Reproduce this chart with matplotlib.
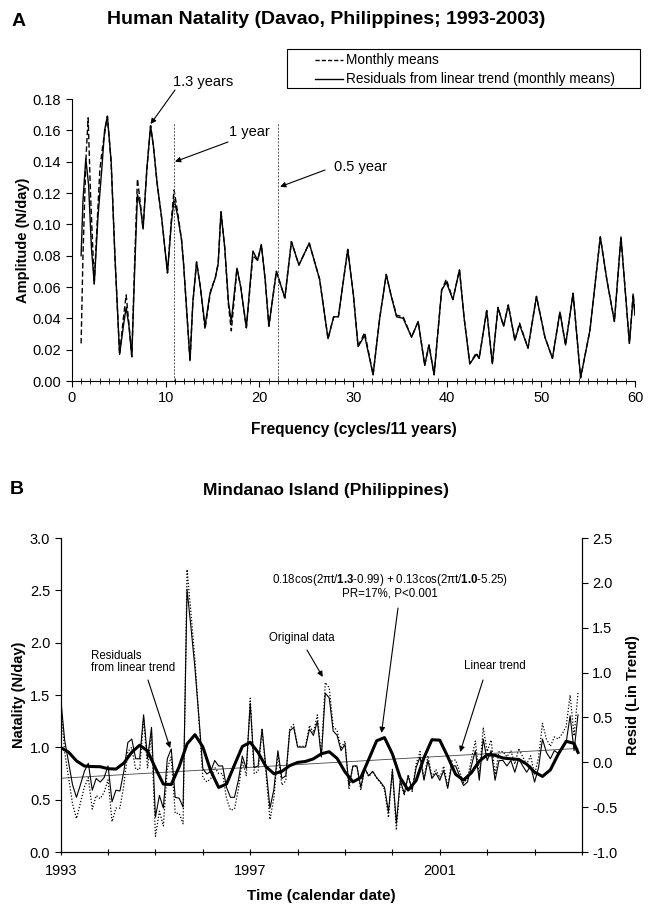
import matplotlib
matplotlib.use('Agg')
import matplotlib.pyplot as plt
from matplotlib.lines import Line2D
from matplotlib.patches import Rectangle
from matplotlib.ticker import MultipleLocator, FixedLocator, FormatStrFormatter

plt.rcParams['font.family'] = ['Liberation Sans', 'DejaVu Sans']
plt.rcParams['mathtext.fontset'] = 'custom'
plt.rcParams['mathtext.rm'] = 'Liberation Sans'
plt.rcParams['mathtext.bf'] = 'Liberation Sans:bold'

# === PAINEL A: espectro (frequência em ciclos/11 anos) ===
freq_res = [1.0, 1.2, 1.5, 1.8, 2.1, 2.4, 2.8, 3.2, 3.5, 3.8, 4.2, 4.6, 5.1, 5.5, 5.8, 6.1, 6.4,
            6.7, 7.0, 7.3, 7.6, 8.0, 8.4, 8.7, 9.1, 9.6, 10.2, 10.6, 10.9, 11.3, 11.7, 11.9,
            12.3, 12.6, 12.9, 13.3, 13.7, 14.2, 14.7, 15.3, 15.6, 15.9, 16.3, 16.7, 17.0,
            17.6, 18.0, 18.6, 19.3, 19.8, 20.2, 20.6, 21.0, 21.8, 22.7, 23.4, 24.2, 25.3,
            26.4, 27.3, 27.9, 28.4, 29.4, 30.0, 30.5, 31.2, 32.1, 32.8, 33.5, 34.0, 34.6,
            35.3, 36.2, 36.9, 37.6, 38.05, 38.6, 39.4, 39.9, 40.6, 41.3, 41.8, 42.4, 43.1,
            43.4, 44.2, 44.8, 45.4, 46.0, 46.5, 47.2, 47.7, 48.6, 49.5, 50.4, 51.2, 52.0,
            52.6, 53.4, 54.2, 55.2, 56.3, 57.0, 57.8, 58.5, 59.4, 59.8, 60.0]
amp_res = [0.080, 0.115, 0.142, 0.125, 0.085, 0.062, 0.105, 0.135, 0.160, 0.169, 0.140, 0.080,
           0.017, 0.035, 0.047, 0.035, 0.0155, 0.070, 0.119, 0.112, 0.097, 0.135, 0.163, 0.150,
           0.126, 0.103, 0.069, 0.100, 0.116, 0.105, 0.090, 0.076, 0.040, 0.013, 0.050, 0.076,
           0.060, 0.035, 0.055, 0.066, 0.075, 0.108, 0.085, 0.050, 0.038, 0.072, 0.060, 0.034,
           0.083, 0.077, 0.087, 0.065, 0.035, 0.070, 0.053, 0.089, 0.074, 0.088, 0.065, 0.027,
           0.041, 0.041, 0.084, 0.055, 0.022, 0.029, 0.004, 0.040, 0.068, 0.055, 0.041, 0.040,
           0.028, 0.038, 0.010, 0.023, 0.004, 0.058, 0.063, 0.052, 0.071, 0.040, 0.011, 0.017,
           0.0145, 0.045, 0.011, 0.047, 0.035, 0.0485, 0.026, 0.036, 0.021, 0.054, 0.028,
           0.0145, 0.044, 0.023, 0.056, 0.002, 0.0325, 0.092, 0.0645, 0.038, 0.092, 0.024,
           0.054, 0.042]

freq_mm = [1.0, 1.2, 1.5, 1.75, 2.0, 2.4, 2.7, 3.0, 3.3, 3.8, 4.2, 4.6, 5.1, 5.5, 5.8, 6.1, 6.4,
           6.7, 7.0, 7.3, 7.6, 8.0, 8.4, 8.7, 9.1, 9.6, 10.2, 10.6, 10.9, 11.3, 11.7, 11.9,
           12.3, 12.6, 12.9, 13.3, 13.7, 14.2, 14.8, 15.3, 15.6, 15.9, 16.3, 16.7, 17.0,
           17.6, 18.0, 18.6, 19.3, 19.8, 20.2, 20.6, 21.0, 21.8, 22.7, 23.4, 24.2, 25.3,
           26.4, 27.3, 27.9, 28.4, 29.4, 30.0, 30.5, 31.2, 32.1, 32.8, 33.5, 34.0, 34.6,
           35.3, 36.2, 36.9, 37.6, 38.05, 38.6, 39.4, 39.9, 40.6, 41.3, 41.8, 42.4, 43.1,
           43.4, 44.2, 44.8, 45.4, 46.0, 46.5, 47.2, 47.7, 48.6, 49.5, 50.4, 51.2, 52.0,
           52.6, 53.4, 54.2, 55.2, 56.3, 57.0, 57.8, 58.5, 59.4, 59.8, 60.0]
amp_mm = [0.024, 0.080, 0.140, 0.168, 0.120, 0.062, 0.100, 0.135, 0.150, 0.169, 0.140, 0.080,
          0.017, 0.040, 0.055, 0.036, 0.0155, 0.075, 0.129, 0.114, 0.097, 0.135, 0.163, 0.150,
          0.126, 0.103, 0.069, 0.102, 0.122, 0.107, 0.090, 0.076, 0.040, 0.013, 0.050, 0.076,
          0.060, 0.033, 0.058, 0.066, 0.075, 0.108, 0.085, 0.048, 0.032, 0.072, 0.060, 0.034,
          0.080, 0.077, 0.087, 0.065, 0.035, 0.070, 0.053, 0.089, 0.074, 0.088, 0.065, 0.027,
          0.041, 0.041, 0.084, 0.055, 0.022, 0.031, 0.004, 0.040, 0.068, 0.055, 0.042, 0.041,
          0.028, 0.038, 0.010, 0.023, 0.004, 0.058, 0.065, 0.052, 0.071, 0.040, 0.011, 0.018,
          0.0145, 0.045, 0.011, 0.047, 0.035, 0.0485, 0.026, 0.037, 0.021, 0.054, 0.028,
          0.0145, 0.044, 0.023, 0.056, 0.002, 0.0325, 0.092, 0.0645, 0.038, 0.092, 0.024,
          0.056, 0.042]

period_freqs = [10.9, 22.0]    # 1 ano e 0.5 ano
period_top = 0.165

# === PAINEL B: série mensal 1993-2003 ===
resid = [0.72, 0.25, 0.00, -0.25, -0.39, -0.25, -0.10, -0.01, -0.31, -0.18, -0.22, -0.17,
         -0.04, -0.44, -0.31, -0.32, -0.10, 0.22, 0.26, 0.04, 0.04, 0.53, 0.04, 0.39,
         -0.61, -0.37, -0.51, 0.04, 0.15, -0.39, -0.40, -0.50, 1.93, 1.50, 1.05, 0.50,
         -0.07, -0.13, -0.10, 0.02, -0.04, -0.04, -0.28, -0.39, -0.39, -0.20, 0.07, -0.07,
         0.66, -0.06, -0.04, 0.37, -0.07, -0.51, -0.30, 0.13, -0.18, -0.15, 0.35, 0.39,
         0.17, 0.17, 0.17, 0.37, 0.30, 0.46, 0.06, 0.77, 0.72, 0.35, 0.30, 0.13,
         0.20, -0.26, -0.04, -0.04, -0.28, -0.07, -0.15, -0.10, -0.17, -0.22, -0.28, -0.55,
         -0.09, -0.68, -0.20, -0.35, -0.15, -0.31, -0.06, 0.06, -0.20, 0.02, -0.18, -0.12,
         -0.20, -0.09, -0.29, -0.04, -0.04, -0.15, -0.26, -0.22, -0.04, 0.13, -0.20, 0.26,
         0.02, 0.13, -0.20, 0.02, 0.02, -0.04, 0.02, -0.11, 0.04, -0.04, -0.11, -0.04,
         -0.22, -0.06, 0.26, 0.11, 0.04, 0.13, 0.10, 0.15, 0.22, 0.52, 0.13, 0.53]
original = [1.43, 0.96, 0.71, 0.46, 0.32, 0.47, 0.62, 0.71, 0.41, 0.54, 0.51, 0.57,
            0.69, 0.29, 0.42, 0.42, 0.64, 0.96, 1.00, 0.79, 0.79, 1.28, 0.80, 1.14,
            0.15, 0.39, 0.25, 0.80, 0.91, 0.37, 0.37, 0.27, 2.70, 2.28, 1.83, 1.28,
            0.71, 0.67, 0.70, 0.81, 0.75, 0.75, 0.51, 0.40, 0.41, 0.60, 0.87, 0.73,
            1.47, 0.75, 0.77, 1.18, 0.74, 0.31, 0.52, 0.95, 0.64, 0.68, 1.18, 1.22,
            1.01, 1.01, 1.01, 1.21, 1.14, 1.31, 0.91, 1.62, 1.57, 1.20, 1.16, 0.99,
            1.06, 0.60, 0.82, 0.82, 0.59, 0.80, 0.72, 0.77, 0.71, 0.66, 0.60, 0.33,
            0.79, 0.21, 0.69, 0.54, 0.74, 0.58, 0.84, 0.96, 0.70, 0.92, 0.72, 0.79,
            0.71, 0.82, 0.62, 0.87, 0.88, 0.77, 0.66, 0.70, 0.89, 1.06, 0.73, 1.19,
            0.96, 1.07, 0.74, 0.96, 0.96, 0.91, 0.97, 0.84, 0.99, 0.91, 0.84, 0.92,
            0.74, 0.90, 1.23, 1.08, 1.01, 1.10, 1.08, 1.13, 1.20, 1.50, 1.11, 1.52]

# curva ajustada (cosinor), lida a cada 2 meses
fit_months = list(range(0, 131, 2)) + [131]
fit_vals = [0.165, 0.114, 0.016, -0.041, -0.047, -0.049, -0.071, -0.075, -0.008, 0.113,
            0.191, 0.127, -0.065, -0.243, -0.247, -0.049, 0.205, 0.308, 0.172, -0.095,
            -0.280, -0.242, -0.030, 0.176, 0.224, 0.109, -0.049, -0.127, -0.101, -0.037,
            -0.001, 0.010, 0.039, 0.095, 0.118, 0.044, -0.107, -0.218, -0.170, 0.032,
            0.240, 0.276, 0.093, -0.174, -0.309, -0.204, 0.052, 0.252, 0.247, 0.064,
            -0.133, -0.199, -0.116, 0.013, 0.084, 0.078, 0.048, 0.039, 0.032, -0.020,
            -0.109, -0.157, -0.084, 0.091, 0.235, 0.211, 0.11]
trend_dates = [1993.0, 2003.917]
trend_vals = [0.705, 0.99]

datas = [1993 + m / 12 for m in range(len(resid))]
fit_datas = [1993 + m / 12 for m in fit_months]


def fig_xy(x, y):
    # pixel (a partir do canto superior esquerdo) -> fração da figura
    return x / 649, 1 - y / 910


fig = plt.figure(figsize=(6.49, 9.10), dpi=100)

# ---------------- Painel A ----------------
ax1 = fig.add_axes([0.1105, 0.5813, 0.868, 0.3099])
l_mm, = ax1.plot(freq_mm, amp_mm, color='black', lw=1.0, dashes=(4, 2))
l_res, = ax1.plot(freq_res, amp_res, color='black', lw=1.0)
for f in period_freqs:
    ax1.plot([f, f], [0, period_top], color='#555555', lw=0.7, dashes=(2, 1.5))
ax1.set_xlim(0, 60)
ax1.set_ylim(0, 0.18)
ax1.spines['top'].set_visible(False)
ax1.spines['right'].set_visible(False)
ax1.xaxis.set_major_locator(MultipleLocator(10))
ax1.xaxis.set_minor_locator(MultipleLocator(1))
ax1.yaxis.set_major_locator(MultipleLocator(0.02))
ax1.yaxis.set_major_formatter(FormatStrFormatter('%.2f'))
ax1.tick_params(axis='both', labelsize=10.5, direction='out', length=4, width=0.8)
ax1.tick_params(axis='x', which='minor', direction='inout', length=4, width=0.6)
ax1.set_xlabel('Frequency (cycles/11 years)', fontsize=11.2, fontweight='bold', labelpad=12)
ax1.set_ylabel('Amplitude (N/day)', fontsize=10.5, fontweight='bold', labelpad=2)

# legenda desenhada à mão (caixa larga como no original)
fig.add_artist(Rectangle(fig_xy(287, 88), (640 - 287) / 649, (88 - 49) / 910,
                         transform=fig.transFigure, fill=False, edgecolor='black', lw=0.8))
for y, linha, txt in [(60, l_mm, 'Monthly means'),
                      (79, l_res, 'Residuals from linear trend (monthly means)')]:
    x0, y0 = fig_xy(315, y)
    x1, _ = fig_xy(343, y)
    h = Line2D([x0, x1], [y0, y0], transform=fig.transFigure, color='black', lw=1.0)
    if linha is l_mm:
        h.set_dashes((3, 1.5))
    fig.add_artist(h)
    fig.text(*fig_xy(346, y), txt, fontsize=9.8, ha='left', va='center')

fig.text(*fig_xy(19, 22), 'A', fontsize=14, fontweight='bold', va='center', ha='center')
fig.text(*fig_xy(326, 19), 'Human Natality (Davao, Philippines; 1993-2003)', fontsize=14,
         fontweight='bold', ha='center', va='center')

seta = dict(arrowstyle='-|>', color='black', lw=0.8, mutation_scale=8, shrinkA=0, shrinkB=0)
ax1.annotate('', xy=(8.4, 0.164), xytext=fig_xy(175, 90), textcoords='figure fraction',
             arrowprops=seta)
ax1.annotate('', xy=(11.0, 0.140), xytext=fig_xy(228, 142), textcoords='figure fraction',
             arrowprops=seta)
ax1.annotate('', xy=(22.2, 0.124), xytext=fig_xy(325, 170), textcoords='figure fraction',
             arrowprops=seta)
fig.text(*fig_xy(203, 82), '1.3 years', fontsize=10.5, ha='center', va='center')
fig.text(*fig_xy(249, 132), '1 year', fontsize=10.5, ha='center', va='center')
fig.text(*fig_xy(361, 167), '0.5 year', fontsize=10.5, ha='center', va='center')

# ---------------- Painel B ----------------
ax2 = fig.add_axes([0.0935, 0.0637, 0.8032, 0.345])
ax2r = ax2.twinx()
ax2.plot(datas, original, color='black', lw=0.9, ls=(0, (1, 1.5)))
ax2.plot(trend_dates, trend_vals, color='#444444', lw=0.6)
ax2r.plot(datas, resid, color='black', lw=0.8)
ax2r.plot(fit_datas, fit_vals, color='black', lw=2.2)

ax2.set_xlim(1993, 2004)
ax2.set_ylim(0, 3.0)
ax2r.set_ylim(-1.0, 2.5)
for a in (ax2, ax2r):
    a.spines['top'].set_visible(False)
ax2.xaxis.set_major_locator(FixedLocator([1993, 1997, 2001]))
ax2.xaxis.set_minor_locator(MultipleLocator(1))
ax2.xaxis.set_major_formatter(FormatStrFormatter('%d'))
ax2.yaxis.set_major_locator(MultipleLocator(0.5))
ax2.yaxis.set_major_formatter(FormatStrFormatter('%.1f'))
ax2r.yaxis.set_major_locator(MultipleLocator(0.5))
ax2r.yaxis.set_major_formatter(FormatStrFormatter('%.1f'))
ax2.tick_params(axis='both', labelsize=10.5, direction='out', length=4, width=0.8)
ax2.tick_params(axis='x', which='both', direction='inout', length=5, width=0.8, pad=6)
ax2r.tick_params(axis='y', labelsize=10.5, direction='out', length=4, width=0.8)
ax2.set_xlabel('Time (calendar date)', fontsize=11, fontweight='bold', labelpad=8)
ax2.set_ylabel('Natality (N/day)', fontsize=10.5, fontweight='bold', labelpad=3)
ax2r.set_ylabel('Resid (Lin Trend)', fontsize=10.5, fontweight='bold', labelpad=6)

fig.text(*fig_xy(17, 489), 'B', fontsize=14, fontweight='bold', va='center', ha='center')
fig.text(*fig_xy(326, 491), 'Mindanao Island (Philippines)', fontsize=12.5,
         fontweight='bold', ha='center', va='center')

fs_nota = 8.3
fig.text(*fig_xy(390, 580), r'0.18cos(2πt/$\mathbf{1.3}$-0.99) + 0.13cos(2πt/$\mathbf{1.0}$-5.25)',
         fontsize=fs_nota, ha='center', va='center')
fig.text(*fig_xy(390, 593), 'PR=17%, P<0.001', fontsize=fs_nota, ha='center', va='center')
fig.text(*fig_xy(91, 662), 'Residuals\nfrom linear trend', fontsize=fs_nota, ha='left',
         va='center', linespacing=1.1)
fig.text(*fig_xy(302, 638), 'Original data', fontsize=fs_nota, ha='center', va='center')
fig.text(*fig_xy(495, 666), 'Linear trend', fontsize=fs_nota, ha='center', va='center')

ax2.annotate('', xy=(1995.31, 0.994), xytext=fig_xy(148, 680), textcoords='figure fraction',
             arrowprops=seta)
ax2.annotate('', xy=(1998.53, 1.673), xytext=fig_xy(307, 650), textcoords='figure fraction',
             arrowprops=seta)
ax2.annotate('', xy=(1999.77, 1.138), xytext=fig_xy(398, 608), textcoords='figure fraction',
             arrowprops=seta)
ax2.annotate('', xy=(2001.43, 0.956), xytext=fig_xy(483, 680), textcoords='figure fraction',
             arrowprops=seta)

fig.savefig('out.png', dpi=100)
